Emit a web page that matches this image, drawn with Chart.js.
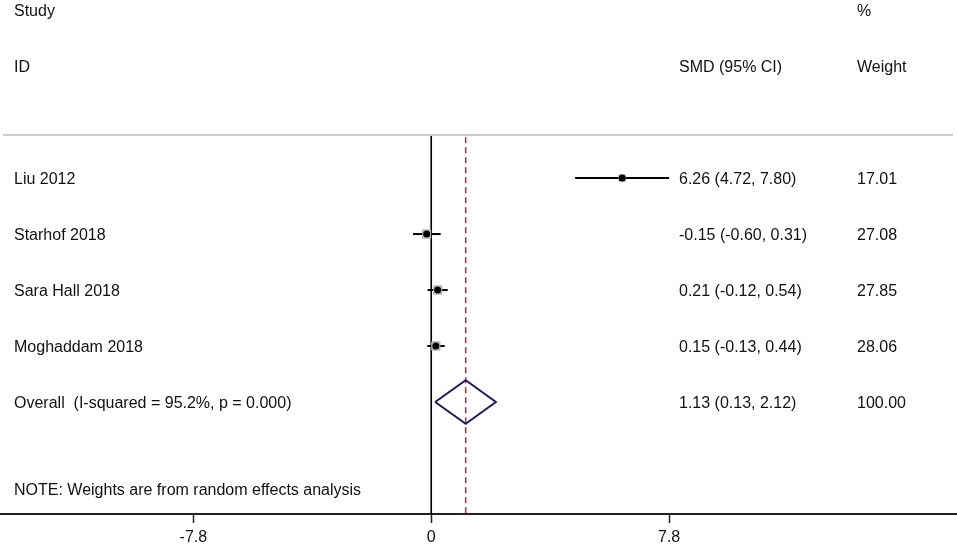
<!DOCTYPE html>
<html>
<head>
<meta charset="utf-8">
<script src="https://cdn.jsdelivr.net/npm/chart.js@4.4.1/dist/chart.umd.min.js"></script>
<style>
html,body{margin:0;padding:0;background:#fff;}
#wrap{width:957px;height:546px;}
</style>
</head>
<body>
<div id="wrap"><canvas id="c" width="957" height="546"></canvas></div>
<script>
// ---- data ----
const studies = ["Liu 2012", "Starhof 2018", "Sara Hall 2018", "Moghaddam 2018"];
const smd = [6.26, -0.15, 0.21, 0.15];
const ciLow = [4.72, -0.60, -0.12, -0.13];
const ciHigh = [7.80, 0.31, 0.54, 0.44];
const weights = [17.01, 27.08, 27.85, 28.06];
const overallLabel = ["Overall  (I-squared = 95.2%, p = 0.000)"];
const overallSMD = [1.13];
const overallLow = [0.13];
const overallHigh = [2.12];
const overallWeight = [100.00];
const xTicks = [-7.8, 0, 7.8];
const xTickLabels = ["-7.8", "0", "7.8"];
const headers = ["Study", "ID", "SMD (95% CI)", "%", "Weight"];
const note = "NOTE: Weights are from random effects analysis";

// ---- layout (row units of the hidden y scale) ----
const rowOf = i => i + 1;               // study rows 1..4
const overallRow = studies.length + 1;  // 5
const topLineRow = 0.232;
const noteRow = 6.54;
const diamondHalf = 0.39;
const FONT = '16px "Liberation Sans", Arial, sans-serif';
const TEXT_DY = 2;

const datasets = [];
// black centre points
datasets.push({
  type: 'scatter', order: 0,
  data: smd.map((v, i) => ({x: v, y: rowOf(i)})),
  pointStyle: 'circle', pointRadius: 3.5, backgroundColor: '#000', borderColor: '#000', borderWidth: 0
});
// grey weight squares
datasets.push({
  type: 'scatter', order: 1,
  data: smd.map((v, i) => ({x: v, y: rowOf(i)})),
  pointStyle: 'rect',
  pointRadius: weights.map(w => 1.1 * Math.sqrt(w)),
  backgroundColor: '#c4c4c4', borderColor: '#a8a8a8', borderWidth: 1
});
// CI lines
studies.forEach((s, i) => {
  datasets.push({
    type: 'line', order: 2,
    data: [{x: ciLow[i], y: rowOf(i)}, {x: ciHigh[i], y: rowOf(i)}],
    borderColor: '#000', borderWidth: 2, pointRadius: 0, fill: false
  });
});
// overall diamond
datasets.push({
  type: 'line', order: 2,
  data: [
    {x: overallLow[0], y: overallRow},
    {x: overallSMD[0], y: overallRow - diamondHalf},
    {x: overallHigh[0], y: overallRow},
    {x: overallSMD[0], y: overallRow + diamondHalf},
    {x: overallLow[0], y: overallRow}
  ],
  borderColor: '#1d1d66', borderWidth: 2, pointRadius: 0, fill: false, tension: 0,
  borderJoinStyle: 'miter'
});
// null line at 0
datasets.push({
  type: 'line', order: 3,
  data: [{x: 0, y: topLineRow}, {x: 0, y: 7}],
  borderColor: '#000', borderWidth: 1.6, pointRadius: 0, fill: false
});
// overall effect dashed line
datasets.push({
  type: 'line', order: 3,
  data: [{x: overallSMD[0], y: topLineRow + 0.04}, {x: overallSMD[0], y: 7}],
  borderColor: '#a6333a', borderWidth: 1.5, borderDash: [6, 4], pointRadius: 0, fill: false
});

const textPlugin = {
  id: 'forestText',
  afterDatasetsDraw(chart) {
    const ctx = chart.ctx, y = chart.scales.y, a = chart.chartArea;
    ctx.save();
    // top separator
    ctx.strokeStyle = '#cccccc'; ctx.lineWidth = 2;
    ctx.beginPath();
    const ly = y.getPixelForValue(topLineRow);
    ctx.moveTo(a.left + 3, ly); ctx.lineTo(a.right - 4, ly); ctx.stroke();

    ctx.font = FONT; ctx.fillStyle = '#111'; ctx.textBaseline = 'middle'; ctx.textAlign = 'left';
    const xL = 14, xC = 679, xW = 857;
    const py = v => y.getPixelForValue(v) + TEXT_DY;
    const h1 = py(-2.0), h2 = py(-1.0);
    ctx.fillText(headers[0], xL, h1);
    ctx.fillText(headers[1], xL, h2);
    ctx.fillText(headers[2], xC, h2);
    ctx.fillText(headers[3], xW, h1);
    ctx.fillText(headers[4], xW, h2);
    studies.forEach((s, i) => {
      const yy = py(rowOf(i));
      ctx.fillText(s, xL, yy);
      ctx.fillText(smd[i].toFixed(2) + ' (' + ciLow[i].toFixed(2) + ', ' + ciHigh[i].toFixed(2) + ')', xC, yy);
      ctx.fillText(weights[i].toFixed(2), xW, yy);
    });
    const po = py(overallRow);
    ctx.fillText(overallLabel[0], xL, po);
    ctx.fillText(overallSMD[0].toFixed(2) + ' (' + overallLow[0].toFixed(2) + ', ' + overallHigh[0].toFixed(2) + ')', xC, po);
    ctx.fillText(overallWeight[0].toFixed(2), xW, po);
    ctx.fillText(note, xL, py(noteRow));
    ctx.restore();
  }
};

new Chart(document.getElementById('c'), {
  data: {datasets},
  options: {
    responsive: false,
    animation: false,
    events: [],
    layout: {padding: 0, autoPadding: false},
    plugins: {legend: {display: false}, tooltip: {enabled: false}},
    scales: {
      x: {
        type: 'linear', position: 'bottom',
        min: -14.14, max: 17.24,
        afterBuildTicks: s => { s.ticks = xTicks.map(v => ({value: v})); },
        afterFit: s => { s.height = 32; },
        ticks: {
          autoSkip: false, maxRotation: 0, padding: 5,
          color: '#111', font: {family: '"Liberation Sans", Arial, sans-serif', size: 16},
          callback: (v) => { const k = xTicks.indexOf(v); return k >= 0 ? xTickLabels[k] : ''; }
        },
        grid: {drawOnChartArea: false, drawTicks: true, tickLength: 9, tickColor: '#222', tickWidth: 1.5},
        border: {display: true, color: '#222', width: 2}
      },
      y: {
        type: 'linear', display: false, reverse: true, min: -2.18, max: 7
      }
    }
  },
  plugins: [textPlugin]
});
</script>
</body>
</html>
